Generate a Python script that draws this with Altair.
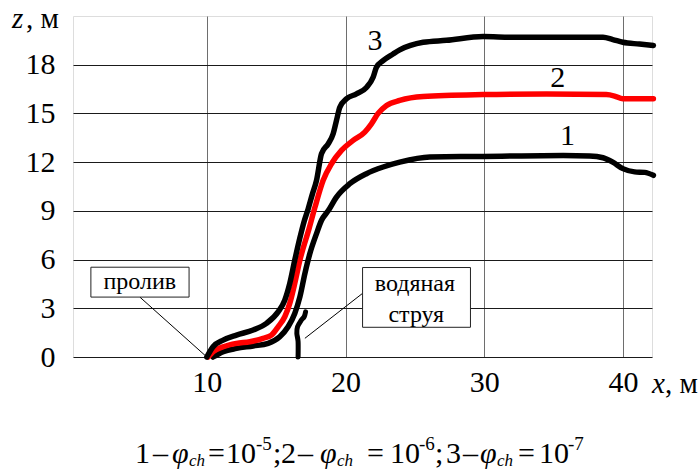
import altair as alt
import pandas as pd

FONT = "Liberation Serif"

# ---------------- data ----------------
c1_x = [10.45, 11.18, 12.14, 13.34, 14.42, 15.26, 15.86, 16.34, 16.71, 17.07, 17.43, 17.91, 18.27,
        18.75, 19.35, 20.31, 21.51, 22.71, 23.91, 26.08, 29.92, 35.7, 37.6, 38.57, 39.27, 40.0,
        40.85, 41.57, 42.2]
c1_z = [0.0, 0.33, 0.53, 0.68, 0.84, 1.25, 1.86, 2.68, 3.7, 5.14, 6.37, 7.6, 8.42,
        9.0, 9.85, 10.67, 11.29, 11.7, 12.0, 12.32, 12.35, 12.41, 12.38, 12.27, 12.0, 11.6,
        11.4, 11.37, 11.19]

c2_x = [10.1, 10.45, 11.18, 12.14, 13.1, 14.06, 14.66, 15.14, 15.62, 15.98, 16.34, 16.71, 17.37,
        17.79, 18.39, 18.99, 19.71, 20.55, 21.39, 21.87, 22.35, 22.96, 23.91, 25.6, 29.92, 34.5,
        38.8, 39.4, 40.0, 42.2]
c2_z = [0.0, 0.33, 0.63, 0.84, 0.94, 1.15, 1.35, 1.86, 2.48, 3.3, 4.53, 5.96, 7.9,
        9.2, 10.88, 11.9, 12.72, 13.34, 13.85, 14.36, 15.0, 15.49, 15.8, 16.04, 16.16, 16.2,
        16.16, 16.07, 15.9, 15.9]

c3_x = [10.0, 10.45, 11.18, 12.14, 13.34, 14.3, 15.14, 15.62, 15.98, 16.34, 16.7, 17.0, 17.3,
        17.6, 17.91, 18.27, 18.75, 19.11, 19.35, 19.59, 20.07, 20.79, 21.51, 21.99, 22.23, 22.71,
        23.43, 23.91, 25.6, 27.28, 29.92, 32.1, 35.5, 38.57, 39.27, 40.0, 41.2, 42.2]
c3_z = [0.0, 0.63, 1.04, 1.35, 1.66, 2.07, 2.78, 3.5, 4.53, 5.96, 7.3, 8.3, 9.1,
        10.0, 10.88, 12.52, 13.13, 13.75, 14.57, 15.38, 15.9, 16.2, 16.6, 17.23, 17.84, 18.25,
        18.66, 18.91, 19.38, 19.5, 19.73, 19.69, 19.69, 19.69, 19.55, 19.38, 19.27, 19.18]

jet_x = [16.58, 16.58, 16.49, 16.54, 16.8, 17.02, 17.12]
jet_z = [0.0, 0.94, 1.46, 1.86, 2.25, 2.48, 2.78]

series_names = ["1", "2", "3"]
series_label_x = [36.0, 35.3, 22.13]
series_label_z = [13.58, 17.2, 19.48]

x_ticks = [10, 20, 30, 40]
y_ticks = [0, 3, 6, 9, 12, 15, 18]

box_texts = [["пролив"], ["водяная", "струя"]]
box_x1 = [1.64, 21.23]
box_x2 = [8.72, 29.01]
box_z1 = [3.69, 1.83]
box_z2 = [5.53, 5.51]
leader_x1 = [5.17, 21.23]
leader_z1 = [3.69, 3.92]
leader_x2 = [10.0, 17.07]
leader_z2 = [0.0, 1.15]

caption_parts = ["1", "–", "φ", "ch", "=", "10", "-5", ";",
                 "2", "–", "φ", "ch", "=", "10", "-6", ";",
                 "3", "–", "φ", "ch", "=", "10", "-7"]

# ---------------- layout (pixels) ----------------
PL, PT, PW, PH = 73, 16, 579, 341
caption_kind = ["n", "n", "i", "sub", "n", "n", "sup", "n",
                "n", "n", "i", "sub", "n", "n", "sup", "n",
                "n", "n", "i", "sub", "n", "n", "sup"]
caption_px = [135, 153, 172, 189, 208, 226, 256, 273,
              281, 298, 320, 337, 367, 390, 419, 435,
              446, 463, 480, 497, 518, 539, 568]

# ---------------- build tables ----------------
rows = []
for name, xs, zs in [("1", c1_x, c1_z), ("2", c2_x, c2_z), ("3", c3_x, c3_z)]:
    for i, (a, b) in enumerate(zip(xs, zs)):
        rows.append({"x": a, "z": b, "s": name, "o": i})
curves = pd.DataFrame(rows)
jet = pd.DataFrame({"x": jet_x, "z": jet_z, "o": list(range(len(jet_x)))})
labels = pd.DataFrame({"x": series_label_x, "z": series_label_z, "t": series_names})
boxes = pd.DataFrame({"x": box_x1, "x2": box_x2, "z": box_z1, "z2": box_z2})
leaders = pd.DataFrame({"x": leader_x1, "x2": leader_x2, "z": leader_z1, "z2": leader_z2})
box_label_rows = [
    {"x": 5.17, "z": 4.6, "t": box_texts[0][0]},
    {"x": 25.0, "z": 4.5, "t": box_texts[1][0]},
    {"x": 25.1, "z": 2.6, "t": box_texts[1][1]},
]
box_labels = pd.DataFrame(box_label_rows)

xscale = alt.Scale(domain=[0.35, 42.1], nice=False, zero=False)
yscale = alt.Scale(domain=[0, 21], nice=False, zero=False)

X = alt.X("x:Q", scale=xscale, title=None,
          axis=alt.Axis(values=x_ticks, grid=True, gridColor="#6e6e6e", gridWidth=1,
                        ticks=False, domain=False, labelFont=FONT, labelFontSize=30,
                        labelColor="black", labelPadding=10, labelFlush=False))
Y = alt.Y("z:Q", scale=yscale, title=None,
          axis=alt.Axis(values=y_ticks, grid=True, gridColor="#1a1a1a", gridWidth=1,
                        ticks=False, domain=False, labelFont=FONT, labelFontSize=30,
                        labelColor="black", labelPadding=18, labelFlush=False))

curve_layer = alt.Chart(curves).mark_line(
    strokeWidth=5.5, strokeCap="round", strokeJoin="round", interpolate="monotone"
).encode(
    x=X, y=Y,
    color=alt.Color("s:N", scale=alt.Scale(domain=series_names, range=["#000000", "#ff0000", "#000000"]), legend=None),
    order="o:Q",
)

jet_layer = alt.Chart(jet).mark_line(
    strokeWidth=5, strokeCap="round", strokeJoin="round", interpolate="cardinal", color="black"
).encode(x=X, y=Y, order="o:Q")

leader_layer = alt.Chart(leaders).mark_rule(color="black", strokeWidth=1).encode(
    x=X, y=Y, x2="x2:Q", y2="z2:Q")

box_layer = alt.Chart(boxes).mark_rect(fill="white", stroke="#222", strokeWidth=1).encode(
    x=X, y=Y, x2="x2:Q", y2="z2:Q")

box_text_layer = alt.Chart(box_labels).mark_text(
    font=FONT, fontSize=24, color="black", baseline="middle", align="center"
).encode(x=X, y=Y, text="t:N")

label_layer = alt.Chart(labels).mark_text(
    font=FONT, fontSize=30, color="black", baseline="middle", align="center"
).encode(x=X, y=Y, text="t:N")

layers = [curve_layer, jet_layer, leader_layer, box_layer, box_text_layer, label_layer]

one = alt.Data(values=[{}])


def ptext(txt, px, py, size=28, style="normal"):
    return alt.Chart(one).mark_text(
        text=txt, font=FONT, fontSize=size, fontStyle=style, color="black",
        align="left", baseline="alphabetic"
    ).encode(x=alt.value(px - PL), y=alt.value(py - PT))


# axis titles
layers.append(ptext("z", 12, 28, 29, "italic"))
layers.append(ptext(", м", 26, 28, 29))
layers.append(ptext("x", 652, 393, 29, "italic"))
layers.append(ptext(", м", 665, 393, 29))

# caption
for txt, kind, px in zip(caption_parts, caption_kind, caption_px):
    if kind == "n":
        layers.append(ptext(txt, px, 463, 30))
    elif kind == "i":
        layers.append(ptext(txt, px, 463, 30, "italic"))
    elif kind == "sub":
        layers.append(ptext(txt, px, 466, 17, "italic"))
    else:
        layers.append(ptext(txt, px, 450, 19))

chart = alt.layer(*layers).properties(
    width=PW, height=PH,
    autosize=alt.AutoSizeParams(type="none"),
    padding={"left": PL, "top": PT, "right": 699 - PL - PW, "bottom": 470 - PT - PH},
).configure_view(stroke="#333", strokeWidth=1).configure(background="white")

chart.save("out.html", embed_options={"renderer": "svg", "actions": False})
